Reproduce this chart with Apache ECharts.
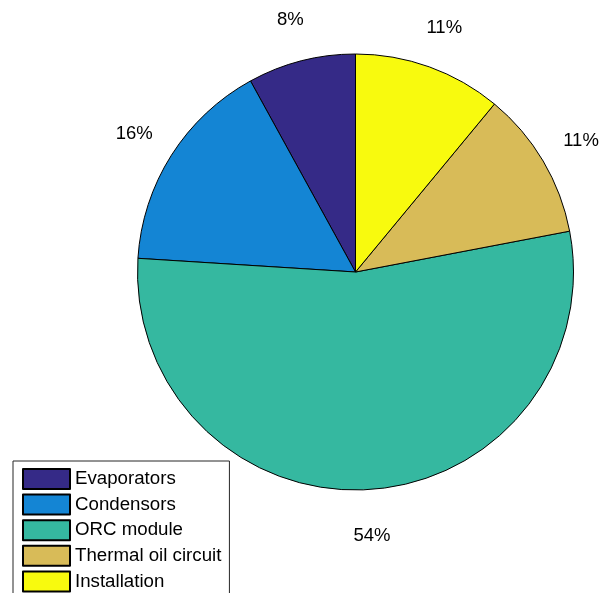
<!DOCTYPE html>
<html>
<head>
<meta charset="utf-8">
<style>
  html, body { margin: 0; padding: 0; background: #fff; }
  #chart { width: 601px; height: 593px; }
</style>
<script src="https://cdn.jsdelivr.net/npm/echarts@6/dist/echarts.min.js"></script>
</head>
<body>
<div id="chart"></div>
<script>
// Cost breakdown of the ORC plant (percent shares)
var categories = ['Evaporators', 'Condensors', 'ORC module', 'Thermal oil circuit', 'Installation'];
var shares = [8, 16, 54, 11, 11];
var colors = ['#352a87', '#1485d4', '#35b8a0', '#d8bb58', '#f8fa0e'];

var FONT = '"Liberation Sans", Arial, Helvetica, sans-serif';

var pieData = categories.map(function (name, i) {
  return { name: name, value: shares[i], itemStyle: { color: colors[i] } };
});

var chart = echarts.init(document.getElementById('chart'), null, { renderer: 'canvas' });

chart.setOption({
  backgroundColor: '#ffffff',
  animation: false,
  textStyle: { fontFamily: FONT },
  legend: {
    orient: 'vertical',
    left: 13,
    top: 461,
    height: 140,
    padding: [7, 8, 7, 9],
    itemWidth: 47,
    itemHeight: 20,
    itemGap: 3.6,
    icon: 'rect',
    data: categories,
    backgroundColor: '#ffffff',
    borderColor: '#262626',
    borderWidth: 1,
    borderRadius: 0,
    selectedMode: false,
    textStyle: { fontFamily: FONT, fontSize: 18.7, color: '#000000' }
  },
  series: [
    {
      name: 'Cost share',
      type: 'pie',
      center: [355.5, 272],
      radius: 218,
      startAngle: 90,
      clockwise: false,
      avoidLabelOverlap: false,
      label: { show: false },
      labelLine: { show: false },
      itemStyle: { borderColor: '#000000', borderWidth: 1 },
      emphasis: { disabled: true },
      data: pieData
    },
    {
      // invisible ring carrying the percentage labels just outside the pie
      name: 'Labels',
      type: 'pie',
      center: [355.5, 274],
      radius: [239, 279],
      startAngle: 90,
      clockwise: false,
      silent: true,
      legendHoverLink: false,
      avoidLabelOverlap: false,
      itemStyle: { color: 'rgba(0,0,0,0)', borderWidth: 0 },
      label: {
        show: true,
        position: 'inside',
        color: '#000000',
        fontFamily: FONT,
        fontSize: 18.5,
        formatter: function (p) { return Math.round(p.percent) + '%'; }
      },
      labelLine: { show: false },
      emphasis: { disabled: true },
      data: categories.map(function (name, i) { return { name: name, value: shares[i] }; })
    }
  ]
});
</script>
</body>
</html>
